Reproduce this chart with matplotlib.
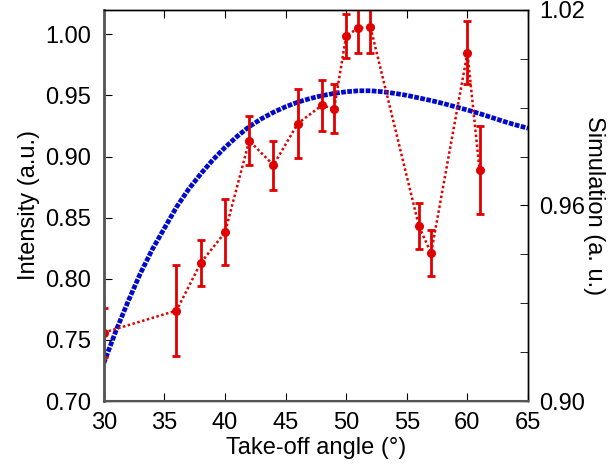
import matplotlib.pyplot as plt
from matplotlib.ticker import MultipleLocator

plt.rcParams['font.family'] = ['Liberation Sans', 'DejaVu Sans']
plt.rcParams['font.size'] = 17

# measured intensity (left axis)
angle = [30, 36, 38, 40, 42, 44, 46, 48, 49, 50, 51, 52, 56, 57, 60, 61]
intensity = [0.756, 0.774, 0.813, 0.838, 0.913, 0.893, 0.927, 0.942, 0.939,
             0.999, 1.005, 1.006, 0.843, 0.821, 0.985, 0.889]
err = [0.020, 0.037, 0.019, 0.027, 0.020, 0.020, 0.028, 0.021, 0.020,
       0.018, 0.020, 0.021, 0.019, 0.019, 0.026, 0.036]

# simulation (right axis)
sim_angle = list(range(30, 66))
sim = [0.9116, 0.9215, 0.9305, 0.9390, 0.9465, 0.9530, 0.9595, 0.9650, 0.9697,
       0.9740, 0.9778, 0.9812, 0.9842, 0.9866, 0.9886, 0.9903, 0.9917, 0.9928,
       0.9937, 0.9944, 0.9949, 0.9952, 0.9952, 0.9949, 0.9944, 0.9938, 0.9930,
       0.9922, 0.9913, 0.9903, 0.9893, 0.9882, 0.9870, 0.9858, 0.9847, 0.9837]

fig = plt.figure(figsize=(6.14, 4.65), dpi=100)
ax = fig.add_axes([0.169, 0.1376, 0.691, 0.841])
ax2 = ax.twinx()

ax2.plot(sim_angle, sim, color='#0008cc', lw=3.4, dashes=(1.0, 0.3),
         solid_capstyle='butt', dash_capstyle='butt')
ax.errorbar(angle, intensity, yerr=err, color='#e00000', lw=1.8, ls=(0, (1, 1)),
            marker='o', ms=5.5, elinewidth=2, capsize=3, capthick=2)

ax.set_zorder(ax2.get_zorder() + 1)
ax.patch.set_visible(False)

ax.set_xlim(30, 65)
ax.set_ylim(0.70, 1.02)
ax2.set_ylim(0.90, 1.02)
ax.xaxis.set_major_locator(MultipleLocator(5))
ax.yaxis.set_major_locator(MultipleLocator(0.05))
ax.yaxis.set_major_formatter(plt.FormatStrFormatter('%.2f'))
ax2.yaxis.set_major_locator(MultipleLocator(0.06))
ax2.yaxis.set_minor_locator(MultipleLocator(0.015))
ax2.yaxis.set_major_formatter(plt.FormatStrFormatter('%.2f'))

ax.tick_params(axis='x', direction='in', top=True, length=6, pad=8)
ax.tick_params(axis='y', direction='in', length=6, pad=9)
ax2.tick_params(axis='y', which='both', direction='in', length=6, pad=8)

ax.set_xlabel('Take-off angle (°)', labelpad=2)
ax.set_ylabel('Intensity (a.u.)', labelpad=4)
ax2.set_ylabel('Simulation (a. u.)', rotation=270, labelpad=14)

for a in (ax, ax2):
    for s in a.spines.values():
        s.set_linewidth(1.0)
ax.spines['left'].set_color('#555555')
ax.spines['left'].set_linewidth(2)
ax.spines['bottom'].set_color('#555555')
ax.spines['bottom'].set_linewidth(1.5)

fig.savefig('out.png', dpi=100)
